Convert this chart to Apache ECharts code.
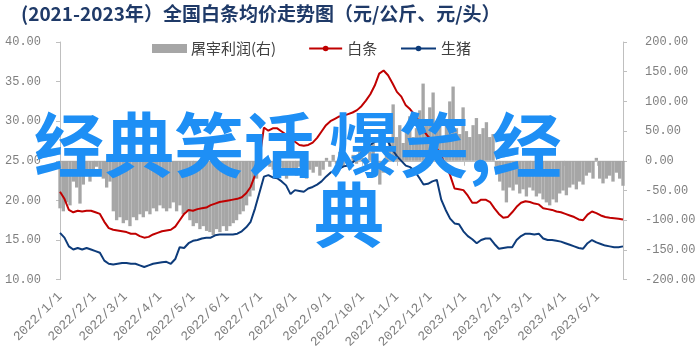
<!DOCTYPE html>
<html>
<head>
<meta charset="utf-8">
<script src="https://cdn.jsdelivr.net/npm/echarts@6/dist/echarts.min.js"></script>
<style>html,body{margin:0;padding:0;background:#fff;}#c{width:700px;height:351px;}</style>
</head>
<body>
<div id="c"></div>
<script>
// ---- data ----
const startDate = [2022, 1, 1];   // first category
const dayCount = 509;             // 2022/1/1 .. 2023/5/24, daily categories
const profitStep = 3;             // profit sampled every 3 days
const priceStep = 4;              // prices sampled every 4 days

const seriesNames = ['屠宰利润(右)', '白条', '生猪'];

const profit = [-80,-85,-70,-75,-35,-45,-72,-40,-25,-35,
-20,-10,-25,-30,-45,-35,-85,-100,-95,-105,
-100,-110,-95,-100,-90,-95,-85,-90,-80,-85,
-75,-80,-85,-80,-70,-85,-75,-90,-85,-100,
-110,-105,-115,-110,-118,-120,-125,-115,-120,-110,
-118,-110,-105,-100,-90,-85,-75,-60,-50,-30,
-15,-5,5,-10,-15,-20,-10,-25,-30,-15,
-20,-25,-10,-20,-30,-15,-20,-10,-25,-15,
5,-10,10,-5,15,-10,5,-15,10,-5,
20,5,-10,15,30,10,-40,-20,20,40,
95,40,60,30,50,75,40,55,85,130,
60,90,115,50,70,40,60,100,125,55,
45,90,50,40,60,72,45,55,65,40,
45,-10,-35,-50,-70,-45,-50,-40,-55,-48,
-60,-45,-50,-60,-55,-65,-70,-75,-65,-70,
-55,-50,-58,-45,-40,-48,-35,-40,-25,-20,
-30,5,-30,-38,-30,-25,-35,-20,-30,-42];

const baitiao = [21.1,20.2,18.8,18.5,18.7,18.6,18.7,18.7,18.5,18.3,
17.3,16.5,16.3,16.2,16.1,16.0,15.8,15.8,15.5,15.3,
15.4,15.7,15.9,16.1,16.2,16.3,16.7,17.5,18.3,18.8,
18.7,18.9,19.0,19.1,19.4,19.6,19.8,19.9,20.0,20.1,
20.2,20.4,20.9,21.7,23.2,25.3,29.2,28.8,29.1,29.1,
28.7,28.3,27.9,27.4,27.0,26.9,27.0,27.3,27.9,28.7,
29.5,30.0,30.3,30.6,30.7,30.9,31.1,31.4,31.9,32.6,
33.4,34.5,36.0,36.4,35.8,34.8,33.7,33.1,32.0,31.5,
30.8,30.0,28.8,28.1,27.5,26.6,25.6,24.4,23.2,21.5,
21.4,21.3,20.6,19.7,19.7,20.1,20.1,19.8,19.0,18.3,
17.8,17.9,18.5,19.2,19.7,19.9,19.8,19.6,19.5,19.0,
18.9,18.8,18.6,18.5,18.3,18.1,17.9,17.6,17.5,18.2,
18.6,18.4,18.1,17.9,17.8,17.75,17.7,17.6];

const shengzhu = [15.9,15.3,14.2,13.8,14.0,13.8,14.0,13.8,13.6,13.4,
12.4,12.0,11.9,12.0,12.1,12.1,12.0,12.0,11.8,11.6,
11.8,12.0,12.1,12.2,12.25,12.0,12.6,14.1,14.0,14.6,
14.9,15.0,15.2,15.3,15.3,15.6,15.7,15.7,15.7,15.7,
15.8,16.1,16.6,17.3,19.0,21.0,23.0,23.2,22.9,22.8,
22.4,21.9,20.8,21.3,21.2,21.1,21.5,21.7,22.0,22.4,
23.0,23.5,23.8,24.0,24.3,24.4,24.8,25.3,26.0,26.5,
27.0,27.4,27.6,27.9,27.4,26.4,25.6,25.0,24.4,24.2,
23.7,22.9,22.0,22.1,22.4,22.6,20.1,18.8,17.7,17.1,
17.0,16.1,15.5,15.1,14.6,15.0,15.2,15.2,14.5,13.9,
14.0,14.1,14.1,15.0,15.5,15.8,15.8,15.7,15.8,15.2,
15.0,15.0,14.9,14.8,14.6,14.4,14.2,14.0,13.9,14.6,
15.0,14.7,14.5,14.3,14.2,14.1,14.1,14.2];

const leftTicks = {min: 10, max: 40, interval: 5};
const rightTicks = {min: -200, max: 200, interval: 50};

// ---- build categories ----
const categories = [];
const t0 = Date.UTC(startDate[0], startDate[1] - 1, startDate[2]);
for (let i = 0; i < dayCount; i++) {
  const d = new Date(t0 + i * 86400000);
  categories.push(d.getUTCFullYear() + '/' + (d.getUTCMonth() + 1) + '/' + d.getUTCDate());
}
const isMonthStart = (idx, val) => String(val).split('/')[2] === '1';
// dates on which the profit samples sit (hidden axis for the bars)
const profitDates = profit.map((v, i) => categories[i * profitStep]);

const baitiaoData = baitiao.map((v, i) => [i * priceStep, v]);
const shengzhuData = shengzhu.map((v, i) => [i * priceStep, v]);

const axisGray = '#bfbfbf';
const labelGray = '#7f7f7f';
const barGray = '#a6a6a6';
const mono = 'Liberation Mono, DejaVu Sans Mono, monospace';
const cjk = 'Noto Sans CJK SC';

const chart = echarts.init(document.getElementById('c'), null, {renderer: 'canvas'});
chart.setOption({
  animation: false,
  backgroundColor: '#ffffff',
  title: {
    text: '(2021-2023年）全国白条均价走势图（元/公斤、元/头）',
    left: 16, top: -1,
    textStyle: {fontSize: 19, fontWeight: 'bold', color: '#1f3a68', fontFamily: cjk}
  },
  legend: [
    {
      left: 147, top: 36,
      itemWidth: 33, itemHeight: 7, itemGap: 32,
      textStyle: {fontSize: 15, color: '#404040', fontFamily: cjk},
      data: [{name: seriesNames[0], icon: 'rect'}, {name: seriesNames[1]}]
    },
    {
      left: 395, top: 36,
      itemWidth: 35, itemHeight: 7,
      textStyle: {fontSize: 15, color: '#404040', fontFamily: cjk},
      data: [{name: seriesNames[2]}]
    }
  ],
  grid: {left: 60, right: 77, top: 42, bottom: 69, containLabel: false},
  xAxis: [
    {
      type: 'category',
      data: categories,
      boundaryGap: false,
      axisLine: {lineStyle: {color: axisGray, width: 1}},
      axisTick: {show: true, interval: isMonthStart, length: 5, lineStyle: {color: axisGray}},
      axisLabel: {interval: isMonthStart, rotate: 45, margin: 15, fontSize: 13, color: labelGray, fontFamily: mono},
      splitLine: {show: false}
    },
    {
      type: 'category',
      data: profitDates,
      boundaryGap: false,
      show: false,
      position: 'bottom'
    }
  ],
  yAxis: [
    {
      type: 'value', min: leftTicks.min, max: leftTicks.max, interval: leftTicks.interval,
      position: 'left',
      axisLine: {show: true, lineStyle: {color: axisGray}},
      axisTick: {show: true, length: 4, lineStyle: {color: axisGray}},
      axisLabel: {formatter: v => v.toFixed(2), margin: 19, fontSize: 12, color: labelGray, fontFamily: mono},
      splitLine: {show: false}
    },
    {
      type: 'value', min: rightTicks.min, max: rightTicks.max, interval: rightTicks.interval,
      position: 'right',
      axisLine: {show: true, lineStyle: {color: axisGray}},
      axisTick: {show: true, length: 4, lineStyle: {color: axisGray}},
      axisLabel: {formatter: v => v.toFixed(2), margin: 22, fontSize: 12, color: labelGray, fontFamily: mono},
      splitLine: {show: false}
    }
  ],
  series: [
    {
      name: seriesNames[0], type: 'bar', xAxisIndex: 1, yAxisIndex: 1,
      data: profit, barWidth: '100%',
      itemStyle: {color: barGray, borderColor: barGray, borderWidth: 2}, z: 1
    },
    {
      name: seriesNames[1], type: 'line', xAxisIndex: 0, yAxisIndex: 0,
      data: baitiaoData, symbol: 'none', showSymbol: false,
      lineStyle: {color: '#c00000', width: 2}, itemStyle: {color: '#c00000'}, z: 3
    },
    {
      name: seriesNames[2], type: 'line', xAxisIndex: 0, yAxisIndex: 0,
      data: shengzhuData, symbol: 'none', showSymbol: false,
      lineStyle: {color: '#0d3b7a', width: 2}, itemStyle: {color: '#0d3b7a'}, z: 3
    }
  ],
  graphic: [
    {type: 'text', left: 34, top: 110, z: 100,
     style: {text: '经典笑话', fontSize: 70, fontWeight: 'bold', fill: '#1e8ff5', fontFamily: cjk}},
    {type: 'text', left: 329, top: 110, z: 100,
     style: {text: '爆笑,经', fontSize: 70, fontWeight: 'bold', fill: '#1e8ff5', fontFamily: cjk}},
    {type: 'text', left: 314, top: 180, z: 100,
     style: {text: '典', fontSize: 70, fontWeight: 'bold', fill: '#1e8ff5', fontFamily: cjk}}
  ]
});
</script>
</body>
</html>
